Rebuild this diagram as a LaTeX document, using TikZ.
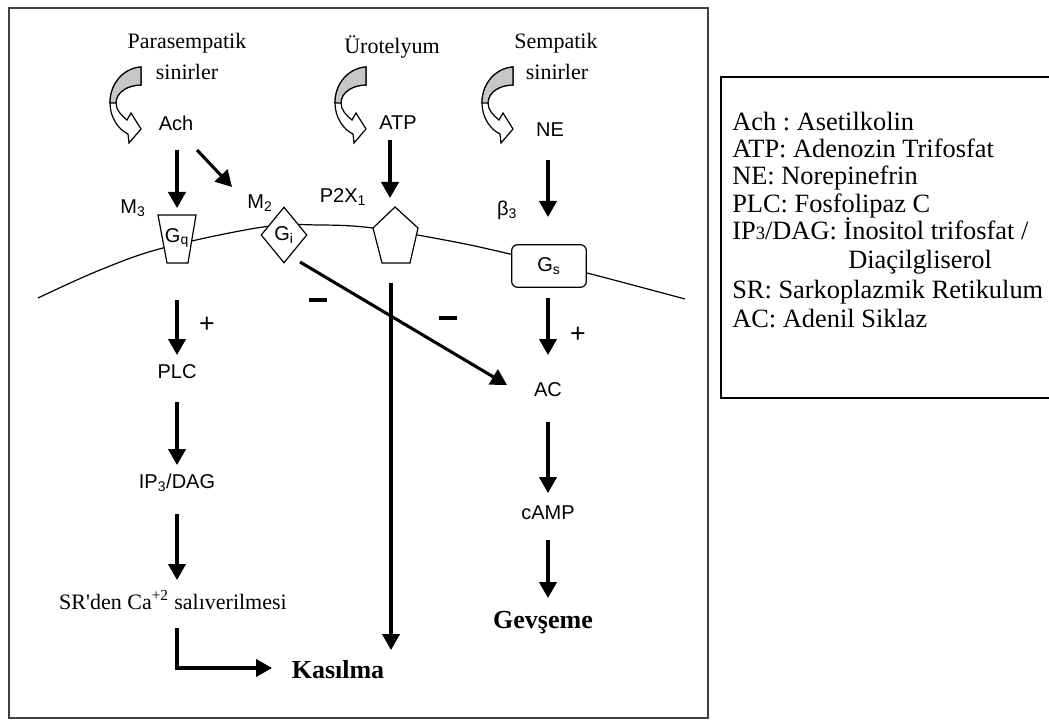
\documentclass[tikz,border=0pt]{standalone}
\usepackage{fontspec}
\setmainfont{Liberation Serif}
\setsansfont{Liberation Sans}
\usetikzlibrary{arrows.meta,shapes.geometric,calc}
\frenchspacing
\newcommand\bendarr[2]{%
  \begin{scope}[shift={(#1,#2)}]
    \filldraw[line width=0.9pt, fill=white]
      (31,-36) .. controls (15,-35) and (0,-21) .. (0,0)
      .. controls (0,15) and (9,27) .. (18,31)
      -- (19,40) -- (31,26) -- (21,10) -- (17,17)
      .. controls (11,12) and (6,7) .. (6,0)
      .. controls (6,-11) and (18,-18) .. (31,-18) -- cycle;
    \filldraw[line width=0.9pt, fill=black!22]
      (31,-36) .. controls (15,-35) and (0,-21) .. (0,0)
      -- (6,0) .. controls (6,-11) and (18,-18) .. (31,-18) -- cycle;
  \end{scope}}
\begin{document}
\begin{tikzpicture}[x=0.75pt,y=-0.75pt,
  ser/.style={font=\fontsize{16.5}{18}\selectfont, inner sep=0pt},
  sf/.style={font=\fontsize{15}{16}\sffamily, inner sep=0pt},
  bold/.style={font=\fontsize{19.5}{22}\selectfont\bfseries, inner sep=0pt},
  leg/.style={font=\fontsize{19.8}{21}\selectfont, inner sep=0pt, anchor=base west},
  arr/.style={line width=2.3pt, -{Triangle[width=13pt,length=12pt]}},
  shp/.style={line width=0.9pt, fill=white},
  minus/.style={inner sep=0pt}]
\useasboundingbox (0,0) rectangle (1049,720);
% frames
\draw[line width=1.5pt, black!75] (9,8) rectangle (708,718);
\draw[line width=1.3pt] (1050,77) -- (721,77) -- (721,398) -- (1050,398);
% top labels
\node[ser] (para) at (187,43) {Parasempatik};
\node[ser] (sin1) at (187,72) {sinirler};
\node[ser] (uro) at (392,47) {Ürotelyum};
\node[ser] (semp) at (556,43) {Sempatik};
\node[ser] (sin2) at (557,72) {sinirler};
\bendarr{110}{103}
\bendarr{335}{103}
\bendarr{482}{103}
\node[sf] (ach) at (176,123) {Ach};
\node[sf] (atp) at (398,123) {ATP};
\node[sf] (ne) at (550,130) {NE};
% membrane
\draw[line width=0.9pt] plot[smooth, tension=0.6] coordinates
  {(38,298) (100,270) (163,248) (263,227) (320,225) (373,228) (450,241) (510,254) (587,273) (685,299)};
% receptors
\draw[shp] (158,215) -- (196,215) -- (188,263) -- (167,263) -- cycle;
\node[sf] (gq) at (177,238) {G\textsubscript{q}};
\node[draw, diamond, shp, minimum width=34.5pt, minimum height=42pt, inner sep=0pt] (gi) at (284,235) {};
\node[sf] (gilab) at (284,235) {G\textsubscript{i}};
\draw[shp] (395,207) -- (418,228) -- (410,263) -- (382,263) -- (373,228) -- cycle;
\coordinate (pent) at (395,238);
\node[draw, shp, rounded corners=4.5pt, minimum width=56pt, minimum height=32pt, inner sep=0pt, font=\fontsize{15}{16}\sffamily] (gs) at (549,266) {G\textsubscript{s}};
\node[sf] (m3) at (133,208) {M\textsubscript{3}};
\node[sf] (m2) at (260,203) {M\textsubscript{2}};
\node[sf] (p2x) at (343,197) {P2X\textsubscript{1}};
\node[sf] (b3) at (507,210) {β\textsubscript{3}};
% pathway labels
\node[sf] (plc) at (177,372) {PLC};
\node[sf] (ip3) at (177,483) {IP\textsubscript{3}/DAG};
\node[ser] (sr) at (173,600) {SR\textquotesingle den Ca\textsuperscript{+2} salıverilmesi};
\node[bold] (kas) at (338,670) {Kasılma};
\node[sf] (ac) at (548,390) {AC};
\node[sf] (camp) at (548,513) {cAMP};
\node[bold] (gev) at (543,623) {Gevşeme};
\node[font=\fontsize{20}{22}\sffamily, inner sep=0pt] (plus1) at (207,325) {+};
\node[font=\fontsize{20}{22}\sffamily, inner sep=0pt] (plus2) at (578,335) {+};
\node[minus] (min1) at (318,300) {\rule{13.5pt}{3.5pt}};
\node[minus] (min2) at (448,318) {\rule{13.5pt}{3.5pt}};
% connectors
\draw[arr] ($(ach)+(1,27)$) -- ($(gq)+(0,-30)$);
\draw[arr] ($(ach)+(21,27)$) -- ($(gi)+(-52,-48)$);
\draw[arr] ($(atp)+(-8,17)$) -- ($(pent)+(-5,-40)$);
\draw[arr] ($(ne)+(-2,30)$) -- ($(gs)+(-1,-49)$);
\draw[arr] ($(gq)+(0,62)$) -- ($(plc)+(0,-17)$);
\draw[arr] ($(plc)+(0,30)$) -- ($(ip3)+(0,-18)$);
\draw[arr] ($(ip3)+(0,31)$) -- ($(sr)+(4,-20)$);
\draw[arr] ($(sr)+(4,28)$) |- ($(kas)+(-66,-2)$);
\draw[arr] ($(pent)+(-4,45)$) -- ($(kas)+(53,-20)$);
\draw[arr] ($(gi)+(16,27)$) -- ($(ac)+(-41,-5)$);
\draw[arr] ($(gs)+(-1,32)$) -- ($(ac)+(0,-35)$);
\draw[arr] ($(ac)+(0,32)$) -- ($(camp)+(0,-20)$);
\draw[arr] ($(camp)+(0,27)$) -- ($(gev)+(5,-25)$);
% legend
\node[leg] (l1) at (732,131) {Ach : Asetilkolin};
\node[leg] (l2) at (732,158) {ATP: Adenozin Trifosfat};
\node[leg] (l3) at (732,185) {NE: Norepinefrin};
\node[leg] (l4) at (732,213) {PLC: Fosfolipaz C};
\node[leg] (l5) at (732,240) {IP{\fontsize{14}{14}\selectfont 3}/DAG: İnositol trifosfat /};
\node[leg] (l6) at (848,269) {Diaçilgliserol};
\node[leg] (l7) at (732,298) {SR: Sarkoplazmik Retikulum};
\node[leg] (l8) at (732,327) {AC: Adenil Siklaz};
\end{tikzpicture}
\end{document}
